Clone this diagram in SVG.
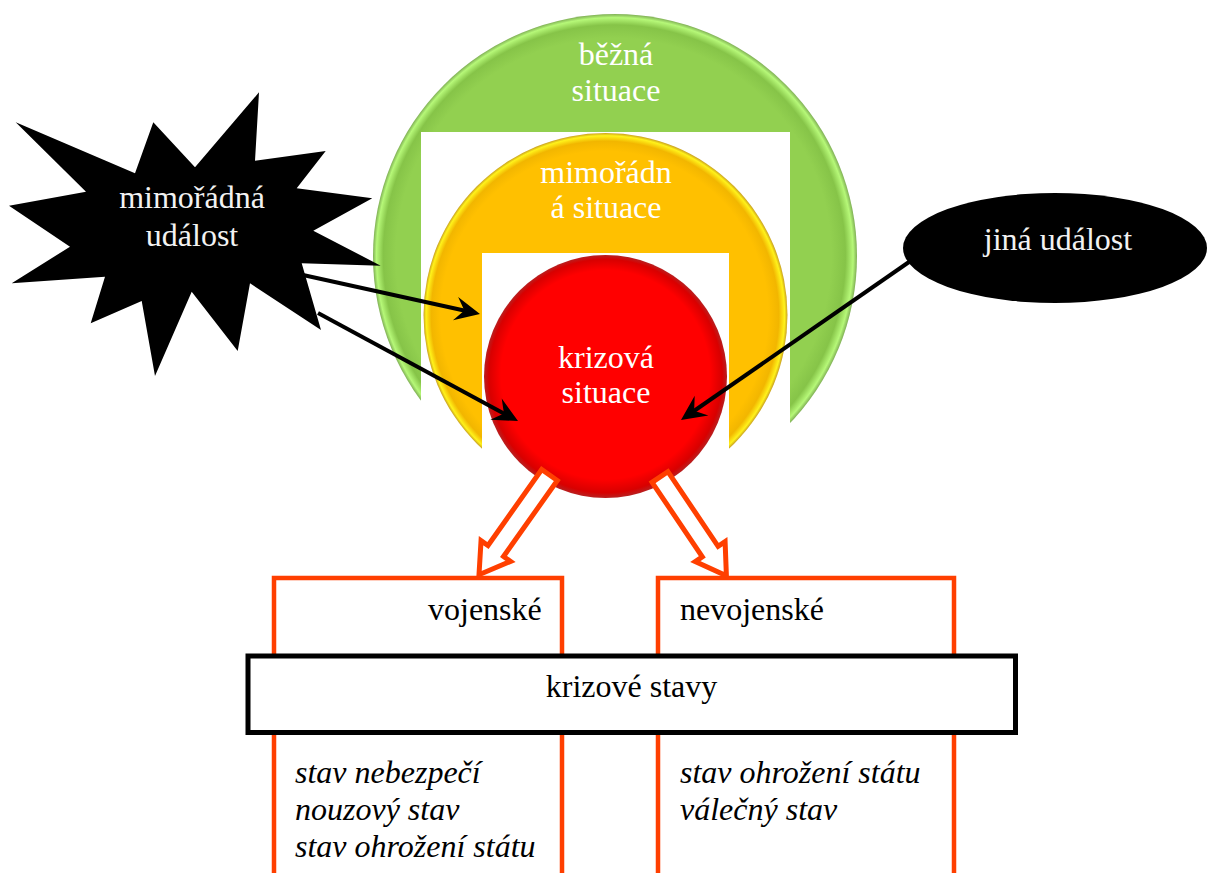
<svg xmlns="http://www.w3.org/2000/svg" width="1209" height="873" viewBox="0 0 1209 873">
<style>
.lbl{font-family:"Liberation Serif","Times New Roman",serif;font-size:32px;text-anchor:middle}
.lft{font-family:"Liberation Serif","Times New Roman",serif;font-size:32px}
.w{fill:#ffffff}
.k{fill:#000000}
.it{font-style:italic}
.conn{stroke:#000;stroke-width:4;fill:none;marker-end:url(#ah)}
.blk{fill:#fff;stroke:#FF3F00;stroke-width:5;stroke-linejoin:miter}
.obox{fill:#fff;stroke:#FF3F00;stroke-width:4.5}
.cover{fill:#fff}
</style>
<defs>
<radialGradient id="gGreen" cx="0.5" cy="0.5" r="0.5" fx="0.47" fy="0.5">
<stop offset="0" stop-color="#92D050"/>
<stop offset="0.9" stop-color="#92D050"/>
<stop offset="0.955" stop-color="#86C448"/>
<stop offset="0.985" stop-color="#B6F878"/>
<stop offset="1" stop-color="#7FAF55"/>
</radialGradient>
<radialGradient id="gOrange" cx="0.5" cy="0.5" r="0.5" fx="0.47" fy="0.5">
<stop offset="0" stop-color="#FFC000"/>
<stop offset="0.9" stop-color="#FFC000"/>
<stop offset="0.955" stop-color="#F2B600"/>
<stop offset="0.985" stop-color="#FFF21A"/>
<stop offset="1" stop-color="#C9A020"/>
</radialGradient>
<radialGradient id="gRed" cx="0.5" cy="0.5" r="0.5" fx="0.5" fy="0.45">
<stop offset="0" stop-color="#FF0000"/>
<stop offset="0.86" stop-color="#FF0000"/>
<stop offset="0.96" stop-color="#D80000"/>
<stop offset="1" stop-color="#B82020"/>
</radialGradient>
<marker id="ah" markerUnits="userSpaceOnUse" markerWidth="40" markerHeight="30" viewBox="-14 -15 30 30" refX="0" refY="0" orient="auto">
<path d="M14,0 L-11,-12 L-2,0 L-11,12 Z" fill="#000"/>
</marker>
</defs>

<g id="situations">
<g id="bezna-situace">
<circle cx="615" cy="256" r="242" fill="url(#gGreen)"/>
<rect class="cover" x="421" y="132" width="369" height="380"/>
</g>
<g id="mimoradna-situace">
<circle cx="605.5" cy="315" r="182" fill="url(#gOrange)"/>
<rect class="cover" x="482" y="253" width="247" height="260"/>
</g>
<g id="krizova-situace">
<circle cx="605.5" cy="376.5" r="121.5" fill="url(#gRed)"/>
</g>
<g id="situation-labels">
<text class="lbl w" x="616" y="65">běžná</text>
<text class="lbl w" x="616" y="101">situace</text>
<text class="lbl w" x="606" y="183">mimořádn</text>
<text class="lbl w" x="606" y="218">á situace</text>
<text class="lbl w" x="606" y="368">krizová</text>
<text class="lbl w" x="606" y="403">situace</text>
</g>
</g>

<g id="mimoradna-udalost">
<polygon fill="#000" points="15.7,122.3 135,173.3 153.3,122.3 195,167.3 259,92.3 255,160.7 325.7,151 296.7,188.3 372.3,198.3 313.3,230.7 380.7,265.7 301.7,263.3 321,330 250,283.3 237.7,351 191.7,291.7 155,376 141.7,301 90.7,323.3 105,276.7 11.7,283.3 70,246.7 9,205.7 86,191.7"/>
<text class="lbl" fill="#F2F2F2" x="192" y="208">mimořádná</text>
<text class="lbl" fill="#F2F2F2" x="192" y="246">událost</text>
</g>

<g id="jina-udalost">
<ellipse cx="1055" cy="248" rx="152" ry="55" fill="#000"/>
<text class="lbl" fill="#F2F2F2" x="1058" y="250">jiná událost</text>
</g>

<g id="vojenske">
<rect class="obox" x="274" y="578" width="288" height="310"/>
<text class="lft k" x="428" y="620">vojenské</text>
<text class="lft k it" x="295" y="783">stav nebezpečí</text>
<text class="lft k it" x="295" y="820">nouzový stav</text>
<text class="lft k it" x="295" y="857">stav ohrožení státu</text>
</g>

<g id="nevojenske">
<rect class="obox" x="658" y="578" width="296" height="310"/>
<text class="lft k" x="680" y="620">nevojenské</text>
<text class="lft k it" x="680" y="783">stav ohrožení státu</text>
<text class="lft k it" x="680" y="820">válečný stav</text>
</g>

<g id="krizove-stavy">
<rect x="248" y="656" width="767.5" height="76.5" fill="#fff" stroke="#000" stroke-width="5"/>
<text class="lbl k" x="631.5" y="697">krizové stavy</text>
</g>

<g id="connectors">
<line class="conn" x1="303" y1="275" x2="466.3" y2="311"/>
<line class="conn" x1="318" y1="313" x2="505.7" y2="414.4"/>
<line class="conn" x1="909" y1="262" x2="692.5" y2="412"/>
<polygon class="blk" points="557.3,480.5 503.5,556.5 510.5,561.4 479,574.7 481.05,540.6 488,545.5 541.7,469.5"/>
<polygon class="blk" points="652.1,482.3 702.3,556.9 695.3,561.6 726.4,575.7 725.1,541.6 718.1,546.3 667.9,471.7"/>
</g>
</svg>
